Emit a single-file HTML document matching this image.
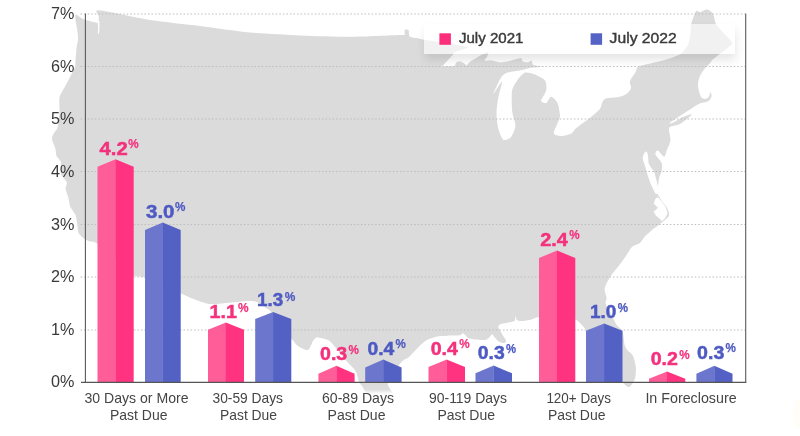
<!DOCTYPE html>
<html><head><meta charset="utf-8"><title>Chart</title>
<style>
html,body{margin:0;padding:0;background:#fff;}
body{width:800px;height:436px;overflow:hidden;position:relative;font-family:"Liberation Sans",sans-serif;}
svg{position:absolute;left:0;top:0;display:block;}
text{font-family:"Liberation Sans",sans-serif;}
#legend{position:absolute;left:424px;top:24px;width:311px;height:30px;background:rgba(255,255,255,0.62);box-shadow:1px 6px 10px rgba(0,0,0,0.10);}
</style></head><body>
<svg width="800" height="436" viewBox="0 0 800 436">
<defs><linearGradient id="tx" x1="0" y1="0" x2="0" y2="1"><stop offset="0" stop-color="#fff" stop-opacity="0"/><stop offset="0.35" stop-color="#fff" stop-opacity="0.1"/><stop offset="0.62" stop-color="#fff" stop-opacity="1"/><stop offset="1" stop-color="#fff" stop-opacity="1"/></linearGradient></defs>
<path d="M75.8,14.5 C75.0,14.8 75.3,18.0 75.5,20.0 C75.7,22.0 76.9,27.4 77.2,29.8 C77.5,32.2 78.2,36.6 78.1,38.7 C78.0,40.8 77.1,43.9 76.8,46.0 C76.5,48.1 76.1,52.7 75.9,55.0 C75.7,57.3 75.5,62.4 75.4,64.0 C75.3,65.6 75.4,65.9 74.9,67.3 C74.4,68.7 72.2,72.8 71.2,74.7 C70.2,76.6 68.6,80.0 67.5,82.0 C66.4,84.0 63.9,88.4 62.9,90.3 C61.9,92.2 60.1,94.9 59.6,96.7 C59.1,98.5 59.3,102.0 59.3,104.0 C59.3,106.0 59.7,109.9 59.6,112.0 C59.5,114.1 58.9,117.9 58.6,120.0 C58.3,122.1 58.0,126.2 57.4,127.9 C56.8,129.6 54.5,132.0 53.8,133.4 C53.1,134.8 51.7,137.0 51.9,138.9 C52.1,140.8 54.7,146.1 55.3,148.3 C55.9,150.5 55.7,154.0 56.4,155.7 C57.1,157.4 60.4,159.9 60.9,161.7 C61.4,163.5 60.2,167.5 60.3,169.2 C60.4,170.9 60.6,173.4 61.4,175.1 C62.2,176.8 66.3,180.9 66.8,182.6 C67.3,184.3 65.3,186.6 65.5,188.5 C65.7,190.4 67.7,195.1 68.3,197.4 C68.9,199.7 69.2,204.1 70.2,206.4 C71.2,208.7 74.8,213.0 75.7,215.3 C76.6,217.6 76.8,222.0 77.2,224.3 C77.6,226.6 77.7,231.3 78.7,233.2 C79.7,235.1 83.2,238.0 84.7,239.1 C86.2,240.2 88.3,240.9 90.0,241.5 C91.7,242.1 93.5,241.0 97.4,243.7 C101.3,246.4 115.3,257.9 120.0,262.0 C124.7,266.1 130.2,273.5 133.5,275.5 C136.8,277.5 140.9,276.0 145.0,277.5 C149.1,279.0 160.3,284.9 165.0,287.0 C169.7,289.1 177.4,292.0 181.0,293.5 C184.6,295.0 189.9,297.6 193.0,298.8 C196.1,300.0 202.1,302.3 205.0,303.0 C207.9,303.7 208.9,304.3 215.0,304.0 C221.1,303.7 245.4,300.5 252.0,301.0 C258.6,301.5 263.4,306.4 266.0,308.0 C268.6,309.6 268.8,309.1 272.0,313.0 C275.2,316.9 287.6,333.7 291.0,338.0 C294.4,342.3 295.8,344.4 298.0,346.0 C300.2,347.6 306.1,350.6 308.0,350.0 C309.9,349.4 311.8,342.6 313.0,341.0 C314.2,339.4 315.1,337.6 317.0,337.5 C318.9,337.4 325.9,339.1 328.0,340.0 C330.1,340.9 330.5,341.7 333.0,344.5 C335.5,347.3 344.1,358.1 347.0,361.5 C349.9,364.9 353.9,368.3 355.5,371.0 C357.1,373.7 358.2,380.1 359.0,382.0 C359.8,383.9 361.1,384.6 362.0,386.0 C362.9,387.4 365.1,391.4 366.0,393.0 C366.9,394.6 365.5,397.4 369.0,398.0 C372.5,398.6 390.1,398.9 393.0,398.0 C395.9,397.1 392.0,393.1 391.4,391.0 C390.8,388.9 386.7,385.8 388.0,382.0 C389.3,378.2 398.8,365.2 401.5,362.0 C404.2,358.8 406.6,359.1 409.0,357.0 C411.4,354.9 417.7,347.8 420.0,345.6 C422.3,343.4 424.8,341.2 426.9,340.0 C429.0,338.8 433.8,337.3 436.5,336.7 C439.2,336.1 444.4,335.9 447.5,335.7 C450.6,335.5 458.0,335.6 460.0,335.3 C462.0,335.0 462.0,333.3 462.7,333.3 C463.4,333.3 464.7,334.7 465.4,335.3 C466.1,335.9 467.0,337.5 468.2,338.0 C469.4,338.5 472.9,339.2 475.0,339.5 C477.1,339.8 482.9,340.2 484.7,340.0 C486.5,339.8 487.9,338.7 488.8,338.0 C489.7,337.3 491.3,334.4 492.0,334.3 C492.7,334.2 493.8,336.2 494.5,337.0 C495.2,337.8 496.7,339.8 497.5,340.5 C498.3,341.2 500.0,342.2 501.0,342.5 C502.0,342.8 504.4,343.3 505.0,343.0 C505.6,342.7 506.2,341.3 506.0,340.5 C505.8,339.7 504.4,338.0 503.8,337.0 C503.2,336.0 502.1,334.0 501.5,333.0 C500.9,332.0 499.9,330.3 499.5,329.5 C499.1,328.7 498.2,327.7 498.3,327.0 C498.4,326.3 499.0,324.8 500.0,324.3 C501.0,323.8 504.2,323.4 506.0,323.0 C507.8,322.6 512.8,321.8 514.0,321.3 C515.2,320.8 515.0,320.3 515.2,319.5 C515.4,318.7 515.4,315.3 515.6,315.3 C515.8,315.3 516.0,318.8 516.6,319.5 C517.2,320.2 518.3,320.9 520.0,321.0 C521.7,321.1 527.5,320.5 530.0,320.0 C532.5,319.5 535.1,317.3 539.0,317.0 C542.9,316.7 555.3,317.2 560.0,317.5 C564.7,317.8 572.3,318.7 575.0,319.5 C577.7,320.3 579.6,322.6 581.0,324.0 C582.4,325.4 584.0,327.3 586.0,330.0 C588.0,332.7 593.7,340.8 596.0,345.0 C598.3,349.2 601.9,358.0 604.0,362.0 C606.1,366.0 609.5,373.3 612.0,376.0 C614.5,378.7 620.9,381.6 623.0,383.0 C625.1,384.4 627.0,386.7 628.0,387.0 C629.0,387.3 630.1,386.6 631.0,385.5 C631.9,384.4 634.4,381.0 635.0,378.6 C635.6,376.2 636.1,370.0 635.8,367.0 C635.5,364.0 633.9,357.8 632.8,355.6 C631.7,353.4 628.4,351.4 627.3,350.0 C626.2,348.6 625.2,347.4 624.6,345.0 C624.0,342.6 623.6,334.0 622.5,331.3 C621.4,328.6 617.9,326.9 616.3,324.4 C614.7,321.9 611.4,314.8 610.0,312.0 C608.6,309.2 605.9,304.8 605.5,303.0 C605.1,301.2 606.8,300.0 606.7,298.3 C606.6,296.6 604.7,291.7 604.6,290.0 C604.5,288.3 605.2,286.3 605.7,285.0 C606.2,283.7 607.6,281.5 608.5,280.0 C609.4,278.5 611.2,275.1 612.6,273.2 C614.0,271.2 617.7,267.3 619.5,265.0 C621.3,262.7 624.8,257.6 626.4,255.3 C628.0,253.0 630.1,248.6 631.9,247.0 C633.7,245.4 638.4,244.2 640.0,243.0 C641.6,241.8 642.4,239.2 644.0,237.5 C645.6,235.8 649.9,231.8 652.0,230.0 C654.1,228.2 657.9,225.7 660.0,224.0 C662.1,222.3 666.8,218.4 668.0,217.0 C669.2,215.6 669.2,214.3 669.0,213.0 C668.8,211.7 667.6,208.8 666.7,207.2 C665.8,205.6 662.8,202.5 661.7,200.9 C660.6,199.3 658.7,195.6 657.9,194.6 C657.1,193.6 656.2,194.4 655.4,193.3 C654.6,192.2 652.6,188.1 651.6,185.8 C650.6,183.5 648.6,178.2 647.8,175.7 C647.0,173.2 646.0,169.1 645.3,166.8 C644.6,164.5 642.7,160.0 642.7,158.0 C642.7,156.0 644.6,152.2 645.3,151.7 C646.0,151.2 647.3,152.6 647.8,154.2 C648.3,155.8 648.2,162.0 649.0,164.3 C649.8,166.6 653.1,169.8 654.1,171.9 C655.1,174.0 656.1,178.9 656.6,180.7 C657.1,182.5 657.6,186.1 657.9,185.8 C658.2,185.5 658.6,180.2 659.1,178.2 C659.6,176.2 661.4,172.6 661.7,170.6 C662.0,168.6 662.5,165.1 661.7,163.0 C660.9,160.9 655.9,155.8 655.4,154.2 C654.9,152.6 656.8,150.1 657.9,150.4 C659.0,150.7 663.1,156.7 664.2,156.7 C665.3,156.7 665.9,152.5 666.7,150.4 C667.5,148.3 670.2,143.3 670.5,140.3 C670.8,137.3 668.0,129.8 669.2,127.7 C670.4,125.6 677.0,125.7 680.0,124.0 C683.0,122.3 691.5,115.4 691.9,114.5 C692.3,113.6 685.5,115.9 683.0,117.0 C680.5,118.1 674.1,122.3 672.4,123.0 C670.7,123.7 668.5,123.7 670.0,122.5 C671.5,121.3 681.2,115.1 683.8,113.4 C686.4,111.7 688.4,110.5 690.0,109.5 C691.6,108.5 694.6,106.3 696.0,105.5 C697.4,104.7 699.6,103.5 701.0,103.0 C702.4,102.5 705.3,102.5 706.5,102.0 C707.7,101.5 709.8,99.9 710.5,99.0 C711.2,98.1 711.6,95.9 711.6,95.0 C711.6,94.1 710.6,92.2 710.3,92.3 C710.0,92.4 709.8,94.7 709.4,95.5 C709.0,96.3 708.3,97.9 707.5,98.3 C706.7,98.7 704.4,99.1 703.5,98.8 C702.6,98.5 701.1,97.3 700.5,96.0 C699.9,94.7 698.8,90.7 698.5,89.0 C698.2,87.3 697.8,84.7 698.0,83.0 C698.2,81.3 699.2,77.8 700.0,76.0 C700.8,74.2 703.2,70.5 704.4,69.0 C705.6,67.5 708.0,65.4 709.0,64.3 C710.0,63.2 711.0,61.3 712.0,60.2 C713.0,59.1 716.0,57.0 717.0,56.2 C718.0,55.4 718.5,54.9 720.0,53.8 C721.5,52.7 726.6,48.9 728.2,47.4 C729.8,45.9 732.8,44.5 732.2,42.6 C731.6,40.7 725.5,35.4 723.4,33.0 C721.3,30.6 717.4,26.3 716.0,23.8 C714.6,21.3 714.1,15.5 713.0,13.7 C711.9,11.9 708.6,10.0 707.3,9.6 C706.0,9.2 703.9,10.4 703.0,10.8 C702.1,11.2 700.9,12.2 700.0,12.3 C699.1,12.4 697.1,9.7 696.0,11.2 C694.9,12.7 691.9,20.9 691.2,24.0 C690.5,27.1 690.8,32.6 690.4,35.3 C690.0,38.0 688.9,42.9 688.0,45.0 C687.1,47.1 684.2,50.2 683.2,51.4 C682.2,52.6 682.6,53.4 680.0,54.6 C677.4,55.8 668.5,59.1 663.2,60.6 C657.9,62.1 642.6,64.9 639.0,66.4 C635.4,67.9 636.9,70.2 635.7,72.1 C634.5,74.0 630.6,79.2 630.0,81.3 C629.4,83.4 631.5,86.6 631.0,88.2 C630.5,89.8 628.3,92.7 626.5,93.9 C624.7,95.1 620.0,96.7 617.3,97.3 C614.6,97.9 607.8,97.9 605.9,98.5 C604.0,99.1 603.2,100.6 602.4,101.9 C601.6,103.2 601.6,106.7 600.0,108.8 C598.4,110.9 592.9,115.5 589.8,118.0 C586.7,120.5 578.4,126.3 576.0,128.3 C573.6,130.3 573.3,132.4 571.4,133.4 C569.5,134.4 563.6,135.9 561.3,135.9 C559.0,135.9 554.3,135.0 553.8,133.4 C553.3,131.8 556.7,125.6 557.5,123.3 C558.3,121.0 560.0,118.3 560.0,115.7 C560.0,113.1 558.6,105.6 557.5,103.1 C556.4,100.6 552.7,96.8 551.2,96.8 C549.7,96.8 547.5,102.6 546.2,103.1 C544.9,103.6 541.1,102.2 541.1,100.6 C541.1,99.0 545.7,93.1 546.2,90.5 C546.7,87.9 546.5,82.5 544.9,80.4 C543.3,78.3 536.2,75.1 533.6,74.1 C531.0,73.1 526.8,72.0 524.7,72.8 C522.6,73.6 518.8,78.1 517.2,80.4 C515.6,82.7 512.8,86.6 512.1,90.5 C511.4,94.4 511.7,106.1 512.1,110.7 C512.5,115.3 515.6,122.4 515.4,125.8 C515.2,129.2 512.5,135.4 510.9,137.2 C509.3,139.0 505.0,140.9 503.3,139.7 C501.6,138.5 499.1,131.7 498.2,128.3 C497.3,124.9 496.5,117.1 496.5,113.2 C496.5,109.3 497.5,102.1 498.2,98.0 C498.9,93.9 502.6,82.1 502.0,81.6 C501.4,81.1 493.4,94.8 493.2,94.3 C493.0,93.8 499.0,80.7 500.8,77.9 C502.6,75.1 504.4,73.8 507.0,72.8 C509.6,71.8 517.9,71.0 521.0,70.3 C524.1,69.6 528.3,68.3 531.0,67.8 C533.7,67.3 541.7,67.1 542.0,66.8 C542.3,66.4 534.7,65.8 533.3,65.0 C531.9,64.2 532.2,60.9 531.5,60.6 C530.8,60.3 529.1,62.3 528.0,62.4 C526.9,62.5 523.7,62.1 522.8,61.5 C521.8,60.9 522.1,58.2 521.0,58.0 C519.9,57.8 515.8,59.3 514.0,59.8 C512.2,60.2 508.8,61.2 507.0,61.5 C505.2,61.8 502.0,62.5 500.0,62.4 C498.0,62.3 493.3,60.8 491.3,60.6 C489.3,60.4 485.2,61.1 484.6,60.6 C484.0,60.1 486.4,58.2 486.9,57.1 C487.4,56.0 488.7,52.5 488.6,51.9 C488.5,51.3 487.2,52.2 486.0,52.8 C484.8,53.3 481.0,55.1 479.0,56.2 C477.0,57.4 471.9,60.3 470.3,61.5 C468.7,62.7 467.5,65.1 466.8,65.4 C466.1,65.7 465.8,64.6 465.0,64.1 C464.2,63.6 461.7,61.7 460.6,61.5 C459.5,61.3 457.1,61.8 456.3,62.4 C455.5,63.0 455.8,65.4 454.5,65.9 C453.2,66.4 447.8,66.2 446.0,66.3 C444.2,66.4 441.3,66.7 441.0,66.5 C440.7,66.3 442.0,66.3 443.4,65.0 C444.8,63.7 449.8,58.3 451.4,56.6 C453.0,54.9 453.3,53.0 455.4,51.8 C457.5,50.6 467.6,48.7 467.5,47.8 C467.4,46.8 458.2,45.2 454.6,44.5 C451.0,43.8 444.0,42.6 440.0,42.0 C436.0,41.4 427.1,40.2 424.0,39.7 C420.9,39.2 417.9,38.4 416.0,38.0 C414.1,37.6 410.6,37.5 409.6,36.5 C408.6,35.5 409.1,30.8 408.5,30.0 C407.9,29.2 405.3,29.4 404.8,30.0 C404.3,30.6 405.2,34.4 404.6,35.0 C404.0,35.6 407.1,34.8 400.0,35.0 C392.9,35.2 363.0,36.7 350.0,36.8 C337.0,36.8 313.0,36.1 300.0,35.5 C287.0,34.9 263.0,33.7 250.0,32.5 C237.0,31.3 213.0,27.6 200.0,26.0 C187.0,24.4 163.1,22.0 150.0,20.0 C136.9,18.0 106.1,10.8 99.4,10.3 C92.7,9.8 98.9,14.5 98.8,16.0 C98.7,17.5 98.9,21.1 98.6,22.0 C98.3,22.9 97.8,22.9 96.4,22.7 C95.0,22.5 90.0,21.2 88.0,20.6 C86.0,20.0 82.9,18.7 81.3,17.9 C79.7,17.1 76.6,14.2 75.8,14.5Z" fill="#dbdbdb"/>
<!-- Chesapeake bay & Puget sound -->
<path d="M97.6,21 L98.2,28 L97.8,33.7 L99,33.7 L99.5,28 L99.4,21 Z" fill="#fff"/>
<rect x="355" y="384" width="45" height="16" fill="url(#tx)"/>
<path d="M658,197.3 L661.4,201.3 L665.6,207 L667.7,213.3 L665.5,217.4 L662,221.2 L659.6,218.5 L656,215.8 L653.6,211.7 L658,207.8 L653.6,203.4 L655.6,198.4 Z" fill="#fff"/>
</svg>
<div id="legend"></div>
<svg width="800" height="436" viewBox="0 0 800 436" style="will-change:transform">
<g stroke="#bebebe" stroke-width="1.1" stroke-dasharray="1.55 2" fill="none"><line x1="80.5" y1="14" x2="745" y2="14"/><line x1="80.5" y1="66.5" x2="745" y2="66.5"/><line x1="80.5" y1="119" x2="745" y2="119"/><line x1="80.5" y1="171.5" x2="745" y2="171.5"/><line x1="80.5" y1="224.5" x2="745" y2="224.5"/><line x1="80.5" y1="277" x2="745" y2="277"/><line x1="80.5" y1="330" x2="745" y2="330"/></g>
<polygon points="97.5,382 97.5,166.75 115.6,159.25 115.6,382" fill="#ff5d98"/><polygon points="115.39999999999999,382 115.39999999999999,159.25 133.7,166.75 133.7,382" fill="#ff3380"/>
<polygon points="145,382 145,230 162.85,222.5 162.85,382" fill="#6b76cc"/><polygon points="162.65,382 162.65,222.5 180.7,230 180.7,382" fill="#5461c4"/>
<polygon points="208,382 208,329.8 226.0,322.6 226.0,382" fill="#ff5d98"/><polygon points="225.8,382 225.8,322.6 244,329.8 244,382" fill="#ff3380"/>
<polygon points="255.2,382 255.2,319 273.25,312 273.25,382" fill="#6b76cc"/><polygon points="273.05,382 273.05,312 291.3,319 291.3,382" fill="#5461c4"/>
<polygon points="318.4,382 318.4,373.7 336.5,365.8 336.5,382" fill="#ff5d98"/><polygon points="336.3,382 336.3,365.8 354.6,373.7 354.6,382" fill="#ff3380"/>
<polygon points="365.2,382 365.2,367.4 383.4,359.6 383.4,382" fill="#6b76cc"/><polygon points="383.2,382 383.2,359.6 401.6,367.4 401.6,382" fill="#5461c4"/>
<polygon points="428.5,382 428.5,367 446.75,359.4 446.75,382" fill="#ff5d98"/><polygon points="446.55,382 446.55,359.4 465,367 465,382" fill="#ff3380"/>
<polygon points="475.5,382 475.5,373.2 493.75,365.6 493.75,382" fill="#6b76cc"/><polygon points="493.55,382 493.55,365.6 512,373.2 512,382" fill="#5461c4"/>
<polygon points="539,382 539,258 557.15,250.5 557.15,382" fill="#ff5d98"/><polygon points="556.9499999999999,382 556.9499999999999,250.5 575.3,258 575.3,382" fill="#ff3380"/>
<polygon points="586,382 586,330.7 604.25,323.5 604.25,382" fill="#6b76cc"/><polygon points="604.05,382 604.05,323.5 622.5,330.7 622.5,382" fill="#5461c4"/>
<polygon points="649,382 649,378.8 667.15,371.5 667.15,382" fill="#ff5d98"/><polygon points="666.9499999999999,382 666.9499999999999,371.5 685.3,378.8 685.3,382" fill="#ff3380"/>
<polygon points="696.4,382 696.4,373.7 714.45,365.8 714.45,382" fill="#6b76cc"/><polygon points="714.25,382 714.25,365.8 732.5,373.7 732.5,382" fill="#5461c4"/>

<g stroke="#5a5a5a" stroke-width="1.1" fill="none">
<line x1="85.4" y1="13.5" x2="85.4" y2="382"/>
<line x1="745.7" y1="13.5" x2="745.7" y2="382.5"/>
</g>
<line x1="81" y1="382.3" x2="746.3" y2="382.3" stroke="#555" stroke-width="1.25"/>
<g font-size="16.2" fill="#3a3a3a"><text x="51.1" y="19.4" textLength="23.4" lengthAdjust="spacingAndGlyphs">7%</text><text x="51.1" y="71.9" textLength="23.4" lengthAdjust="spacingAndGlyphs">6%</text><text x="51.1" y="124.4" textLength="23.4" lengthAdjust="spacingAndGlyphs">5%</text><text x="51.1" y="176.9" textLength="23.4" lengthAdjust="spacingAndGlyphs">4%</text><text x="51.1" y="229.9" textLength="23.4" lengthAdjust="spacingAndGlyphs">3%</text><text x="51.1" y="282.4" textLength="23.4" lengthAdjust="spacingAndGlyphs">2%</text><text x="51.1" y="335.4" textLength="23.4" lengthAdjust="spacingAndGlyphs">1%</text><text x="51.1" y="387.4" textLength="23.4" lengthAdjust="spacingAndGlyphs">0%</text></g>
<text x="99.6" y="154.5" font-size="19.2" font-weight="bold" fill="#f4317d" stroke="#f4317d" stroke-width="0.5" textLength="28.2" lengthAdjust="spacingAndGlyphs">4.2</text><text x="128.3" y="148.2" font-size="12.6" font-weight="bold" fill="#f4317d" stroke="#f4317d" stroke-width="0.25" textLength="10.4" lengthAdjust="spacingAndGlyphs">%</text>
<text x="146" y="217.5" font-size="19.2" font-weight="bold" fill="#4d5ac2" stroke="#4d5ac2" stroke-width="0.5" textLength="28.5" lengthAdjust="spacingAndGlyphs">3.0</text><text x="175" y="211.2" font-size="12.6" font-weight="bold" fill="#4d5ac2" stroke="#4d5ac2" stroke-width="0.25" textLength="10.4" lengthAdjust="spacingAndGlyphs">%</text>
<text x="209.6" y="317.9" font-size="19.2" font-weight="bold" fill="#f4317d" stroke="#f4317d" stroke-width="0.5" textLength="27.3" lengthAdjust="spacingAndGlyphs">1.1</text><text x="237.9" y="312" font-size="12.6" font-weight="bold" fill="#f4317d" stroke="#f4317d" stroke-width="0.25" textLength="10.6" lengthAdjust="spacingAndGlyphs">%</text>
<text x="257.1" y="306.2" font-size="19.2" font-weight="bold" fill="#4d5ac2" stroke="#4d5ac2" stroke-width="0.5" textLength="26.2" lengthAdjust="spacingAndGlyphs">1.3</text><text x="284.7" y="300.6" font-size="12.6" font-weight="bold" fill="#4d5ac2" stroke="#4d5ac2" stroke-width="0.25" textLength="10.6" lengthAdjust="spacingAndGlyphs">%</text>
<text x="320" y="360.3" font-size="19.2" font-weight="bold" fill="#f4317d" stroke="#f4317d" stroke-width="0.5" textLength="27.2" lengthAdjust="spacingAndGlyphs">0.3</text><text x="348.5" y="354" font-size="12.6" font-weight="bold" fill="#f4317d" stroke="#f4317d" stroke-width="0.25" textLength="10.4" lengthAdjust="spacingAndGlyphs">%</text>
<text x="367.5" y="354.5" font-size="19.2" font-weight="bold" fill="#4d5ac2" stroke="#4d5ac2" stroke-width="0.5" textLength="26.8" lengthAdjust="spacingAndGlyphs">0.4</text><text x="395.4" y="347.9" font-size="12.6" font-weight="bold" fill="#4d5ac2" stroke="#4d5ac2" stroke-width="0.25" textLength="10.3" lengthAdjust="spacingAndGlyphs">%</text>
<text x="430.7" y="354.6" font-size="19.2" font-weight="bold" fill="#f4317d" stroke="#f4317d" stroke-width="0.5" textLength="27.2" lengthAdjust="spacingAndGlyphs">0.4</text><text x="459.2" y="348.1" font-size="12.6" font-weight="bold" fill="#f4317d" stroke="#f4317d" stroke-width="0.25" textLength="10.4" lengthAdjust="spacingAndGlyphs">%</text>
<text x="477.8" y="359.1" font-size="19.2" font-weight="bold" fill="#4d5ac2" stroke="#4d5ac2" stroke-width="0.5" textLength="26.9" lengthAdjust="spacingAndGlyphs">0.3</text><text x="506" y="352.5" font-size="12.6" font-weight="bold" fill="#4d5ac2" stroke="#4d5ac2" stroke-width="0.25" textLength="10.1" lengthAdjust="spacingAndGlyphs">%</text>
<text x="540.3" y="245.9" font-size="19.2" font-weight="bold" fill="#f4317d" stroke="#f4317d" stroke-width="0.5" textLength="27.6" lengthAdjust="spacingAndGlyphs">2.4</text><text x="569.2" y="239.2" font-size="12.6" font-weight="bold" fill="#f4317d" stroke="#f4317d" stroke-width="0.25" textLength="10.4" lengthAdjust="spacingAndGlyphs">%</text>
<text x="589.9" y="318.2" font-size="19.2" font-weight="bold" fill="#4d5ac2" stroke="#4d5ac2" stroke-width="0.5" textLength="26.4" lengthAdjust="spacingAndGlyphs">1.0</text><text x="617.7" y="312" font-size="12.6" font-weight="bold" fill="#4d5ac2" stroke="#4d5ac2" stroke-width="0.25" textLength="10.3" lengthAdjust="spacingAndGlyphs">%</text>
<text x="650.7" y="364.7" font-size="19.2" font-weight="bold" fill="#f4317d" stroke="#f4317d" stroke-width="0.5" textLength="27.2" lengthAdjust="spacingAndGlyphs">0.2</text><text x="679.2" y="358.5" font-size="12.6" font-weight="bold" fill="#f4317d" stroke="#f4317d" stroke-width="0.25" textLength="10.4" lengthAdjust="spacingAndGlyphs">%</text>
<text x="697.1" y="358.5" font-size="19.2" font-weight="bold" fill="#4d5ac2" stroke="#4d5ac2" stroke-width="0.5" textLength="27.2" lengthAdjust="spacingAndGlyphs">0.3</text><text x="725.6" y="352" font-size="12.6" font-weight="bold" fill="#4d5ac2" stroke="#4d5ac2" stroke-width="0.25" textLength="10.4" lengthAdjust="spacingAndGlyphs">%</text>

<g font-size="15" fill="#454545">
<text x="84.4" y="403.4" textLength="104.1" lengthAdjust="spacingAndGlyphs">30 Days or More</text>
<text x="110" y="419.6" textLength="57.5" lengthAdjust="spacingAndGlyphs">Past Due</text>
<text x="212.5" y="403.4" textLength="70.5" lengthAdjust="spacingAndGlyphs">30-59 Days</text>
<text x="220" y="419.6" textLength="57.0" lengthAdjust="spacingAndGlyphs">Past Due</text>
<text x="322" y="403.4" textLength="72.0" lengthAdjust="spacingAndGlyphs">60-89 Days</text>
<text x="327.6" y="419.6" textLength="57.9" lengthAdjust="spacingAndGlyphs">Past Due</text>
<text x="429" y="403.4" textLength="78.0" lengthAdjust="spacingAndGlyphs">90-119 Days</text>
<text x="437.4" y="419.6" textLength="57.6" lengthAdjust="spacingAndGlyphs">Past Due</text>
<text x="546.4" y="403.4" textLength="64.6" lengthAdjust="spacingAndGlyphs">120+ Days</text>
<text x="548" y="419.6" textLength="57.5" lengthAdjust="spacingAndGlyphs">Past Due</text>
<text x="645.4" y="403.4" textLength="91.2" lengthAdjust="spacingAndGlyphs">In Foreclosure</text>
</g>
<ellipse cx="798" cy="414" rx="5" ry="14" fill="#fff3c8" opacity="0.14"/>
<rect x="439.4" y="33.3" width="11.5" height="11.5" fill="#fb2e7b"/>
<rect x="590.6" y="33.3" width="11.5" height="11.5" fill="#5562c6"/>
<g font-size="14.1" fill="#3a3a3a" stroke="#3a3a3a" stroke-width="0.4">
<text x="458.9" y="43.1" textLength="64.6" lengthAdjust="spacingAndGlyphs">July 2021</text>
<text x="609.6" y="43.1" textLength="67.2" lengthAdjust="spacingAndGlyphs">July 2022</text>
</g>
</svg>
</body></html>
